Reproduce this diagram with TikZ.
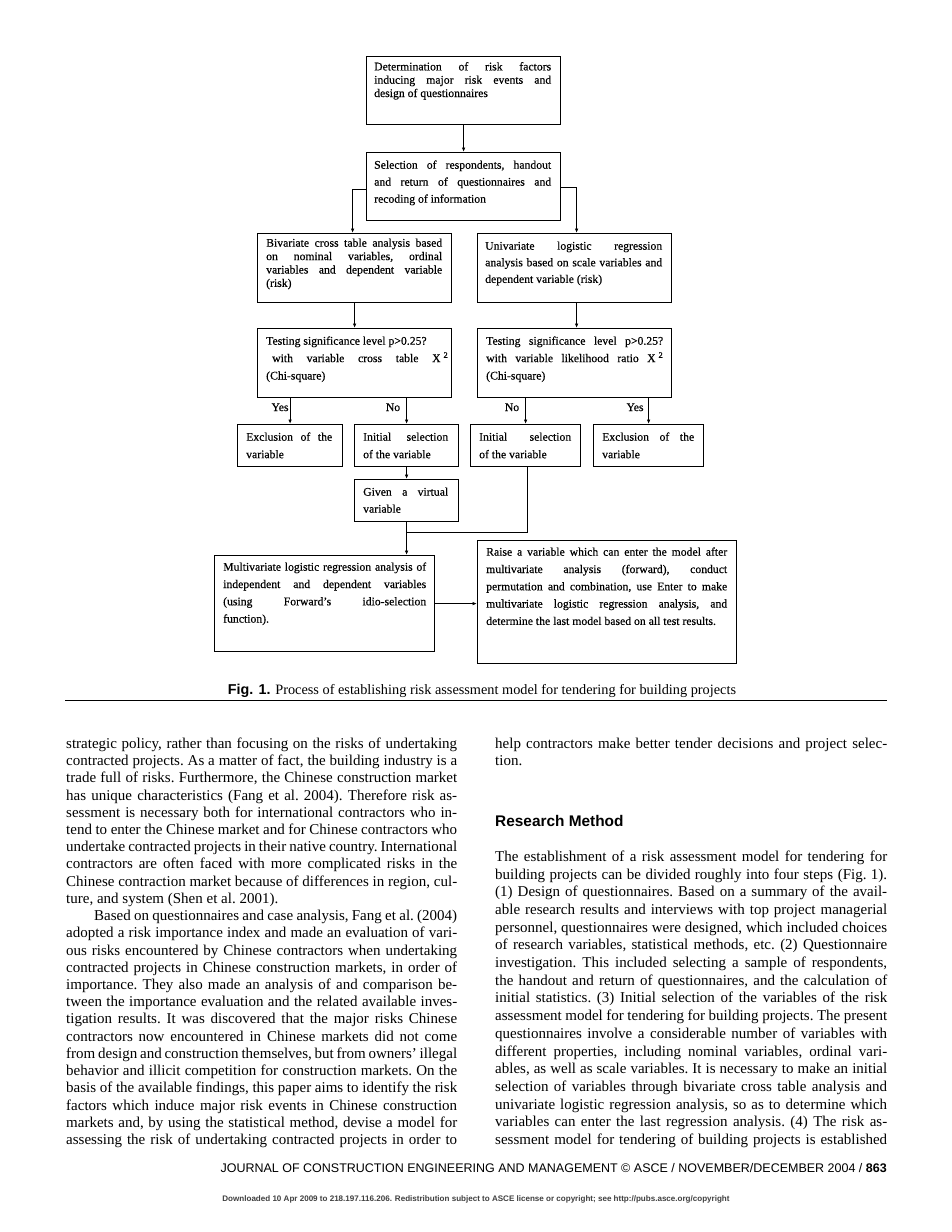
\documentclass[tikz,border=0pt]{standalone}
\usepackage{fontspec}
\setmainfont{Liberation Serif}
\setsansfont{Liberation Sans}
\newfontfamily\boxfamily[FakeBold=0.35,Ligatures=TeX]{Liberation Serif}
\usetikzlibrary{arrows.meta,calc}
\newcommand\JL[1]{\hbox to \hsize{#1}}
\newcommand\LL[1]{\hbox{#1}}
\newcommand\bodyfont{\fontsize{15}{17.22}\selectfont\frenchspacing}
\newcommand\boxfont{\boxfamily\fontsize{11.7}{13.3}\selectfont\frenchspacing}
\newcommand\tb[3]{\parbox[t]{#1}{\boxfont\baselineskip=#2 #3}}
\tikzset{
  box/.style={draw, line width=1.2pt, inner sep=0, anchor=north west},
  txt/.style={inner sep=0, anchor=base west},
  lab/.style={inner sep=0, anchor=base, font=\boxfont},
  conn/.style={line width=1pt, -{Latex[length=4.5pt,width=3.6pt]}},
  plain/.style={line width=1pt}
}
\begin{document}
\begin{tikzpicture}[x=1pt,y=-1pt]
\fill[white] (0,0) rectangle (952,1232);
\useasboundingbox (0,0) rectangle (952,1232);

% ---------------- boxes ----------------
\node[box, minimum width=194pt, minimum height=68pt] (b1) at (366,56) {};
\node[box, minimum width=194pt, minimum height=68pt] (b2) at (366,152) {};
\node[box, minimum width=194pt, minimum height=69pt] (b3) at (257,233) {};
\node[box, minimum width=194pt, minimum height=69pt] (b4) at (477,233) {};
\node[box, minimum width=194pt, minimum height=69pt] (b5) at (257,328) {};
\node[box, minimum width=194pt, minimum height=69pt] (b6) at (477,328) {};
\node[box, minimum width=105pt, minimum height=42pt] (b7) at (237,424) {};
\node[box, minimum width=104pt, minimum height=42pt] (b8) at (354,424) {};
\node[box, minimum width=110pt, minimum height=42pt] (b9) at (470,424) {};
\node[box, minimum width=110pt, minimum height=42pt] (b10) at (593,424) {};
\node[box, minimum width=104pt, minimum height=42pt] (b11) at (354,479) {};
\node[box, minimum width=220pt, minimum height=96pt] (b12) at (214,555) {};
\node[box, minimum width=259pt, minimum height=123pt] (b13) at (477,540) {};

% ---------------- box texts ----------------
\node[txt] (t1) at (374,70.4) {\tb{177pt}{13.3pt}{%
  \JL{Determination of risk factors}
  \JL{inducing major risk events and}
  \LL{design of questionnaires}}};
\node[txt] (t2) at (374,168.7) {\tb{177pt}{17pt}{%
  \JL{Selection of respondents, handout}
  \JL{and return of questionnaires and}
  \LL{recoding of information}}};
\node[txt] (t3) at (266,246.7) {\tb{176pt}{13.4pt}{%
  \JL{Bivariate cross table analysis based}
  \JL{on nominal variables, ordinal}
  \JL{variables and dependent variable}
  \LL{(risk)}}};
\node[txt] (t4) at (485,249.7) {\tb{177pt}{16.6pt}{%
  \JL{Univariate logistic regression}
  \JL{analysis based on scale variables and}
  \LL{dependent variable (risk)}}};
\node[txt] (t5) at (266,344.7) {\tb{182pt}{17.4pt}{%
  \LL{Testing significance level p>0.25?}
  \JL{\kern6pt with variable cross table X\kern3pt\textsuperscript{2}}
  \LL{(Chi-square)}}};
\node[txt] (t6) at (486,344.7) {\tb{177pt}{17.4pt}{%
  \JL{Testing significance level p>0.25?}
  \JL{with variable likelihood ratio X\kern3pt\textsuperscript{2}}
  \LL{(Chi-square)}}};
\node[txt] (t7) at (246,440.7) {\tb{86pt}{17.5pt}{%
  \JL{Exclusion of the}
  \LL{variable}}};
\node[txt] (t8) at (363,440.7) {\tb{85pt}{17.5pt}{%
  \JL{Initial selection}
  \LL{of the variable}}};
\node[txt] (t9) at (479,440.7) {\tb{92pt}{17.5pt}{%
  \JL{Initial selection}
  \LL{of the variable}}};
\node[txt] (t10) at (602,440.7) {\tb{92pt}{17.5pt}{%
  \JL{Exclusion of the}
  \LL{variable}}};
\node[txt] (t11) at (363,495.7) {\tb{85pt}{17pt}{%
  \JL{Given a virtual}
  \LL{variable}}};
\node[txt] (t12) at (223,570.7) {\tb{203pt}{17.3pt}{%
  \JL{Multivariate logistic regression analysis of}
  \JL{independent and dependent variables}
  \JL{(using Forward's idio-selection}
  \LL{function).}}};
\node[txt] (t13) at (486,555.7) {\tb{241pt}{17.3pt}{%
  \JL{Raise a variable which can enter the model after}
  \JL{multivariate analysis (forward), conduct}
  \JL{permutation and combination, use Enter to make}
  \JL{multivariate logistic regression analysis, and}
  \LL{determine the last model based on all test results.}}};

% ---------------- labels ----------------
\node[lab] (y1) at (280,411) {Yes};
\node[lab] (n1) at (393,411) {No};
\node[lab] (n2) at (512,411) {No};
\node[lab] (y2) at (635,411) {Yes};

% ---------------- connectors ----------------
\draw[conn] (b1) -- (b2);
\draw[conn] ([yshift=-3pt]b2.west) -| ([xshift=-2pt]b3.north);
\draw[conn] ([yshift=-1pt]b2.east) -| ([xshift=2pt]b4.north);
\draw[conn] (b3) -- (b5);
\draw[conn] ([xshift=2pt]b4.south) -- ([xshift=2pt]b6.north);
\draw[conn] (b5.south -| b7.north) -- (b7.north);
\draw[conn] (b5.south -| b8.north) -- (b8.north);
\draw[conn] (b6.south -| b9.north) -- (b9.north);
\draw[conn] (b6.south -| b10.north) -- (b10.north);
\draw[conn] (b8) -- (b11);
\coordinate (j) at ($(b11.south)+(0,10)$);
\draw[plain] ([xshift=2pt]b9.south) |- (j);
\draw[conn] (b11.south) -- (b11.south |- b12.north);
\draw[conn] (b12.east) -- (b12.east -| b13.west);

% ---------------- caption and rule ----------------
\node[anchor=base, inner sep=0] (cap) at (482,694)
  {\fontsize{14.3}{16}\selectfont\textsf{\textbf{Fig. 1.}} Process of establishing risk assessment model for tendering for building projects};
\coordinate (rl) at (65,700);
\coordinate (rr) at (887,700);
\draw[line width=1pt] (rl) -- (rr);

% ---------------- left column ----------------
\node[txt] (colL) at (66,748.4) {\parbox[t]{391pt}{\bodyfont
\JL{strategic policy, rather than focusing on the risks of undertaking}
\JL{contracted projects. As a matter of fact, the building industry is a}
\JL{trade full of risks. Furthermore, the Chinese construction market}
\JL{has unique characteristics (Fang et al. 2004). Therefore risk as-}
\JL{sessment is necessary both for international contractors who in-}
\JL{tend to enter the Chinese market and for Chinese contractors who}
\JL{undertake contracted projects in their native country. International}
\JL{contractors are often faced with more complicated risks in the}
\JL{Chinese contraction market because of differences in region, cul-}
\LL{ture, and system (Shen et al. 2001).}
\JL{\hspace*{28pt}Based on questionnaires and case analysis, Fang et al. (2004)}
\JL{adopted a risk importance index and made an evaluation of vari-}
\JL{ous risks encountered by Chinese contractors when undertaking}
\JL{contracted projects in Chinese construction markets, in order of}
\JL{importance. They also made an analysis of and comparison be-}
\JL{tween the importance evaluation and the related available inves-}
\JL{tigation results. It was discovered that the major risks Chinese}
\JL{contractors now encountered in Chinese markets did not come}
\JL{from design and construction themselves, but from owners' illegal}
\JL{behavior and illicit competition for construction markets. On the}
\JL{basis of the available findings, this paper aims to identify the risk}
\JL{factors which induce major risk events in Chinese construction}
\JL{markets and, by using the statistical method, devise a model for}
\JL{assessing the risk of undertaking contracted projects in order to}}};

% ---------------- right column ----------------
\node[txt] (colR1) at (495,748.4) {\parbox[t]{392pt}{\bodyfont
\JL{help contractors make better tender decisions and project selec-}
\LL{tion.}}};
\node[txt] (head) at (495,826.5)
  {\fontsize{15.4}{18}\selectfont\sffamily\bfseries Research Method};
\node[txt] (colR2) at (495,861.4) {\parbox[t]{392pt}{\bodyfont\baselineskip=17.69pt
\JL{The establishment of a risk assessment model for tendering for}
\JL{building projects can be divided roughly into four steps (Fig. 1).}
\JL{(1) Design of questionnaires. Based on a summary of the avail-}
\JL{able research results and interviews with top project managerial}
\JL{personnel, questionnaires were designed, which included choices}
\JL{of research variables, statistical methods, etc. (2) Questionnaire}
\JL{investigation. This included selecting a sample of respondents,}
\JL{the handout and return of questionnaires, and the calculation of}
\JL{initial statistics. (3) Initial selection of the variables of the risk}
\JL{assessment model for tendering for building projects. The present}
\JL{questionnaires involve a considerable number of variables with}
\JL{different properties, including nominal variables, ordinal vari-}
\JL{ables, as well as scale variables. It is necessary to make an initial}
\JL{selection of variables through bivariate cross table analysis and}
\JL{univariate logistic regression analysis, so as to determine which}
\JL{variables can enter the last regression analysis. (4) The risk as-}
\JL{sessment model for tendering of building projects is established}}};

% ---------------- footer ----------------
\node[anchor=base east, inner sep=0] (foot) at (887,1172.5)
  {\fontsize{12.5}{14}\selectfont\sffamily JOURNAL OF CONSTRUCTION ENGINEERING AND MANAGEMENT \textcopyright{} ASCE / NOVEMBER/DECEMBER 2004 / \textbf{863}};
\node[anchor=base, inner sep=0] (dl) at (476,1201)
  {\fontsize{8.05}{9}\selectfont\sffamily\bfseries\color{black!75}Downloaded 10 Apr 2009 to 218.197.116.206. Redistribution subject to ASCE license or copyright; see http://pubs.asce.org/copyright};
\end{tikzpicture}
\end{document}
